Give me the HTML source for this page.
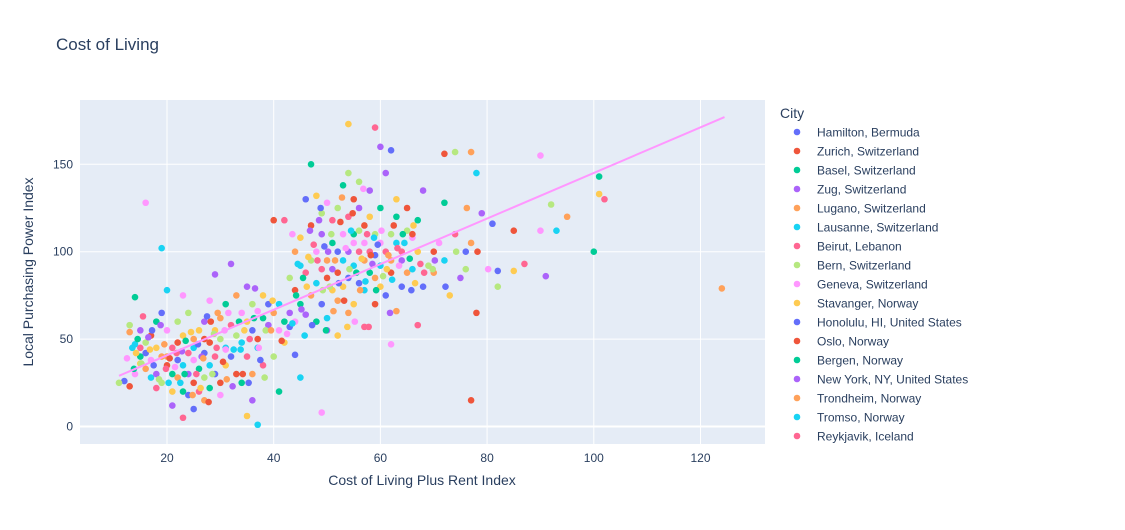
<!DOCTYPE html>
<html><head><meta charset="utf-8"><style>
body{margin:0;background:#fff;font-family:"Liberation Sans",Arial,sans-serif}
svg text{font-family:"Liberation Sans",Arial,sans-serif}
</style></head><body>
<svg id="chart" width="1125" height="525">
<text x="56" y="50" font-size="17" fill="#2a3f5f">Cost of Living</text>
<rect x="80" y="100" width="685" height="344" fill="#e5ecf6"/>
<g id="grid"></g><g id="pts"></g><g id="legend"></g>
<text x="422" y="485" font-size="14" fill="#2a3f5f" text-anchor="middle">Cost of Living Plus Rent Index</text>
<text transform="translate(33,272) rotate(-90)" font-size="14" fill="#2a3f5f" text-anchor="middle">Local Purchasing Power Index</text>
</svg>
<script>
const xTicks=[20,40,60,80,100,120];
const yTicks=[0,50,100,150];
const cities=["Hamilton, Bermuda","Zurich, Switzerland","Basel, Switzerland","Zug, Switzerland","Lugano, Switzerland","Lausanne, Switzerland","Beirut, Lebanon","Bern, Switzerland","Geneva, Switzerland","Stavanger, Norway","Honolulu, HI, United States","Oslo, Norway","Bergen, Norway","New York, NY, United States","Trondheim, Norway","Tromso, Norway","Reykjavik, Iceland"];
const xVals=[12,13,13,13,14,14,15,15,15,15,16,16,16,17,17,17,18,18,18,18,19,19,19,20,20,20,21,21,21,21,22,22,22,22,23,23,23,23,24,24,24,24,25,25,25,25,26,26,26,27,27,27,27,28,28,28,28,29,29,29,29,30,30,30,30,31,31,31,32,32,32,33,33,33,34,34,34,35,35,35,36,36,36,37,37,37,38,38,38,39,39,40,40,40,41,41,42,42,42,43,43,
43,44,44,44,45,45,45,46,46,46,47,47,47,48,48,48,48,49,49,49,49,50,50,50,50,51,51,51,51,52,52,52,52,53,53,53,53,54,54,54,54,54,55,55,55,55,55,56,56,56,56,57,57,57,57,58,58,58,58,59,59,59,59,60,60,60,60,61,61,61,62,62,62,62,63,63,63,64,64,64,65,65,65,66,66,67,67,67,68,68,69,70,70,71,72,72,73,74,75,76,76,77,78,
16,19,14,54,59,60,62,74,77,72,90,78,101,101,102,79,81,92,95,85,90,93,100,85,87,91,82,82,124,77,49,37,41,35,23,36,25,11,20,27,31,45,47,52,57,50,44,56,63,66];
const yVals=[26,58,54,23,30,47,40,36,45,55,42,48,33,52,38,28,60,45,22,30,65,25,40,35,55,78,30,20,45,12,38,60,28,48,75,35,20,52,42,30,18,65,50,25,38,45,33,55,20,60,42,28,15,48,72,35,22,55,40,87,30,50,62,25,18,45,70,35,58,93,40,52,75,30,65,48,25,60,40,80,55,70,30,50,66,45,62,75,35,58,70,40,65,118,55,70,60,48,118,65,57,
85,100,78,60,92,70,108,88,64,130,95,75,115,100,82,60,132,90,110,70,122,95,85,128,62,105,78,118,90,100,125,72,88,110,95,138,80,120,100,85,145,65,130,105,92,110,70,100,125,82,140,95,115,105,78,88,120,100,135,98,110,85,70,105,92,125,80,100,145,75,110,95,88,47,105,120,130,100,95,80,112,88,125,108,90,118,100,58,135,80,92,88,100,105,95,128,75,110,85,100,90,105,65,
128,102,74,173,171,160,158,157,157,156,155,145,143,133,130,122,116,127,120,112,112,112,100,89,93,86,89,80,79,15,8,1,20,6,5,15,10,25,40,50,44,28,150,52,57,55,41,112,66,110];
const xExtra=[12.5,13.5,14.5,14.2,15.5,16.5,17.5,18.5,19.5,20.5,21.5,22.5,23.5,24.5,25.5,26.5,27.5,28.5,29.5,30.5,31.5,32.5,33.5,34.5,35.5,36.5,37.5,38.5,39.5,41.5,42.5,43.5,13.8,16.8,19.8,22.8,25.8,28.8,31.2,34.2,37.2,20.3,23.3,26.3,29.3,32.3,35.3,38.3,24.8,27.8,30.8,33.8,36.3,39.8,21.8,18.8,17.2,15.2,26.8,28.2,
43.5,44.5,45.5,46.5,47.5,48.5,49.5,50.5,51.5,52.5,53.5,54.5,55.5,56.5,57.5,58.5,59.5,60.5,61.5,62.5,63.5,64.5,65.5,66.5,67.5,45.2,47.2,49.2,51.2,53.2,55.2,57.2,59.2,61.2,63.2,46.8,48.8,50.8,52.8,54.8,56.8,58.8,44.2,46.2,48.2,50.2,52.2,54.2,56.2,58.2,60.2,62.2,64.2,66.2,68.2,70.2,72.2,74.2,76.2,78.2,80.2,45.8,49.8,53.8,57.8,61.8,65.8,69.8];
const yExtra=[39,45,50,42,63,51,35,27,47,39,34,25,49,54,30,40,63,30,65,37,65,44,60,55,50,79,38,55,55,49,53,59,33,44,33,43,47,53,27,30,45,25,30,22,45,23,25,28,18,14,55,44,62,72,42,58,55,36,39,60,
110,93,85,97,104,118,103,80,95,117,102,112,88,96,110,93,104,86,98,115,92,105,96,82,93,67,58,78,66,72,60,83,78,90,102,112,125,110,131,122,136,108,75,80,95,100,82,90,78,98,112,84,110,115,88,95,80,100,125,100,90,52,55,57,57,65,78,90];
const trendX=[11,124.5], trendY=[29,177];
const colors=["#636efa","#EF553B","#00cc96","#ab63fa","#FFA15A","#19d3f3","#FF6692","#B6E880","#FF97FF","#FECB52"];
const NS="http://www.w3.org/2000/svg";
const X0=80,X1=765,Y0=100,Y1=444;
const xs=v=>60.3+v*5.335, ys=v=>426.5-v*1.748;
const grid=document.getElementById('grid');
function mk(t,a,p){const e=document.createElementNS(NS,t);for(const k in a)e.setAttribute(k,a[k]);p.appendChild(e);return e;}
xTicks.forEach(t=>{
 const l=mk('line',{x1:xs(t),x2:xs(t),y1:Y0,y2:Y1,stroke:'#fff','stroke-width':1},grid);
 
 
 const tx=mk('text',{x:xs(t),y:462,'font-size':12,fill:'#2a3f5f','text-anchor':'middle'},grid);tx.textContent=t;
 
 
});
yTicks.forEach(t=>{
 const l=mk('line',{x1:X0,x2:X1,y1:ys(t),y2:ys(t),stroke:'#fff','stroke-width':t===0?2:1},grid);
 
 
 const tx=mk('text',{x:73,y:ys(t)+4,'font-size':12,fill:'#2a3f5f','text-anchor':'end'},grid);tx.textContent=t;
 
 
});
const pts=document.getElementById('pts');
const allX=xVals.concat(xExtra), allY=yVals.concat(yExtra);
allX.forEach((x,i)=>{
 const c=mk('circle',{cx:xs(x),cy:ys(allY[i]),r:3.3,fill:colors[(i*7)%10]},pts);
 
 
});
const tl=mk('line',{x1:xs(trendX[0]),y1:ys(trendY[0]),x2:xs(trendX[1]),y2:ys(trendY[1]),stroke:'#FF97FF','stroke-width':2},pts);


const lg=document.getElementById('legend');
const lt=mk('text',{x:780,y:118,'font-size':14,fill:'#2a3f5f'},lg);lt.textContent='City';


cities.forEach((c,i)=>{
 const y=132+i*19;
 const g=mk('g',{},lg);
 
 
 mk('circle',{cx:797,cy:y,r:3.3,fill:colors[i%10]},g);
 const t=mk('text',{x:817,y:y+4.5,'font-size':12,fill:'#2a3f5f'},g);t.textContent=c;
});
</script>
</body></html>
